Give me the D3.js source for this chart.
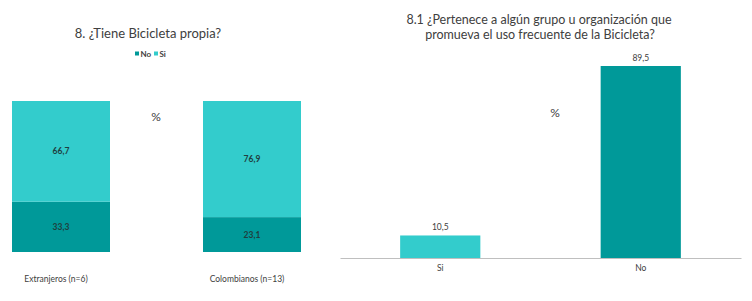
<!DOCTYPE html>
<html>
<head>
<meta charset="utf-8">
<script src="https://cdn.jsdelivr.net/npm/d3@7"></script>
<style>
  body { margin: 0; background: #fff; }
  svg { display: block; }
</style>
</head>
<body>
<svg width="752" height="301"></svg>
<script>
// chart 8: stacked bars
var groups = ["Extranjeros (n=6)", "Colombianos (n=13)"];
var noValues = [33.3, 23.1];
var siValues = [66.7, 76.9];
var legendLabels = ["No", "Si"];

// chart 8.1: simple bars
var answers = ["Si", "No"];
var answerValues = [10.5, 89.5];

var colorNo = "#009999",
    colorSi = "#33cccc";
var fontFam = "'Century Gothic', 'Lato', 'DejaVu Sans', sans-serif";

var svg = d3.select("svg");
function fmt(v) { return v.toFixed(1).replace(".", ","); }

// ---------- left chart ----------
var x1 = d3.scaleOrdinal().domain(groups).range([12, 203]);
var barW1 = 98;
var y1 = d3.scaleLinear().domain([0, 100]).range([252, 101]);

var left = svg.append("g");

left.append("text")
    .attr("x", 148).attr("y", 38)
    .attr("text-anchor", "middle")
    .attr("font-family", fontFam)
    .attr("font-size", 13)
    .attr("fill", "#404040")
    .text("8. ¿Tiene Bicicleta propia?");

// legend
var leg = left.append("g").attr("font-family", fontFam).attr("font-size", 8).attr("font-weight", "bold").attr("fill", "#404040");
[colorNo, colorSi].forEach(function(c, i) {
    var lx = 135 + i * 19;
    leg.append("rect").attr("x", lx).attr("y", 51.5).attr("width", 4).attr("height", 4).attr("fill", c);
    leg.append("text").attr("x", lx + 5.5).attr("y", 56.5).text(legendLabels[i]);
});

var stacks = groups.map(function(g, i) {
    return { g: g, no: noValues[i], si: siValues[i] };
});

var bars = left.selectAll("g.bar").data(stacks).enter().append("g").attr("class", "bar");
bars.append("rect")
    .attr("x", function(d) { return x1(d.g); })
    .attr("y", function(d) { return y1(d.no); })
    .attr("width", barW1)
    .attr("height", function(d) { return y1(0) - y1(d.no); })
    .attr("fill", colorNo);
bars.append("rect")
    .attr("x", function(d) { return x1(d.g); })
    .attr("y", function(d) { return y1(d.no + d.si); })
    .attr("width", barW1)
    .attr("height", function(d) { return y1(d.no) - y1(d.no + d.si); })
    .attr("fill", colorSi);
bars.append("text")
    .attr("x", function(d) { return x1(d.g) + barW1 / 2; })
    .attr("y", function(d) { return (y1(0) + y1(d.no)) / 2 + 3; })
    .text(function(d) { return fmt(d.no); });
bars.append("text")
    .attr("x", function(d) { return x1(d.g) + barW1 / 2; })
    .attr("y", function(d) { return (y1(d.no) + y1(d.no + d.si)) / 2 + 3; })
    .text(function(d) { return fmt(d.si); });
bars.selectAll("text")
    .attr("text-anchor", "middle")
    .attr("font-family", fontFam)
    .attr("font-size", 8.5)
    .attr("font-weight", "bold")
    .attr("fill", "#1f3f3f");

bars.append("text")
    .attr("x", function(d) { return x1(d.g) + barW1 / 2 - 5; })
    .attr("y", 282)
    .attr("text-anchor", "middle")
    .attr("font-family", fontFam)
    .attr("font-size", 8.5)
    .attr("fill", "#404040")
    .text(function(d) { return d.g; });

left.append("text")
    .attr("x", 156).attr("y", 121)
    .attr("text-anchor", "middle")
    .attr("font-family", fontFam)
    .attr("font-size", 12)
    .attr("fill", "#404040")
    .text("%");

// ---------- right chart ----------
var x2 = d3.scaleBand().domain(answers).range([340, 741]).paddingInner(0.6).paddingOuter(0.3);
var y2 = d3.scaleLinear().domain([0, 89.5]).range([258, 66]);

var right = svg.append("g");

var titleLines = ["8.1 ¿Pertenece a algún grupo u organización que", "promueva el uso frecuente de la Bicicleta?"];
right.selectAll("text.title").data(titleLines).enter().append("text")
    .attr("class", "title")
    .attr("x", function(d, i) { return i === 0 ? 539 : 540; })
    .attr("y", function(d, i) { return 24 + i * 14.5; })
    .attr("text-anchor", "middle")
    .attr("font-family", fontFam)
    .attr("font-size", 12.5)
    .attr("fill", "#404040")
    .text(function(d) { return d; });

right.selectAll("rect").data(answers).enter().append("rect")
    .attr("x", function(d) { return x2(d); })
    .attr("y", function(d, i) { return y2(answerValues[i]); })
    .attr("width", x2.bandwidth())
    .attr("height", function(d, i) { return y2(0) - y2(answerValues[i]); })
    .attr("fill", function(d) { return d === "Si" ? colorSi : colorNo; });

right.selectAll("text.val").data(answers).enter().append("text")
    .attr("class", "val")
    .attr("x", function(d) { return x2(d) + x2.bandwidth() / 2; })
    .attr("y", function(d, i) { return y2(answerValues[i]) - 5; })
    .attr("text-anchor", "middle")
    .attr("font-family", fontFam)
    .attr("font-size", 8.5)
    .attr("fill", "#404040")
    .text(function(d, i) { return fmt(answerValues[i]); });

var xAxis = right.append("g")
    .attr("transform", "translate(0,258)")
    .call(d3.axisBottom(x2).tickSize(0).tickPadding(7));
xAxis.select(".domain").attr("stroke", "#bfbfbf").attr("stroke-width", 1.2);
xAxis.selectAll("text")
    .attr("font-family", fontFam)
    .attr("font-size", 8.5)
    .attr("fill", "#404040");

right.append("text")
    .attr("x", 555).attr("y", 117)
    .attr("text-anchor", "middle")
    .attr("font-family", fontFam)
    .attr("font-size", 12)
    .attr("fill", "#404040")
    .text("%");
</script>
</body>
</html>
